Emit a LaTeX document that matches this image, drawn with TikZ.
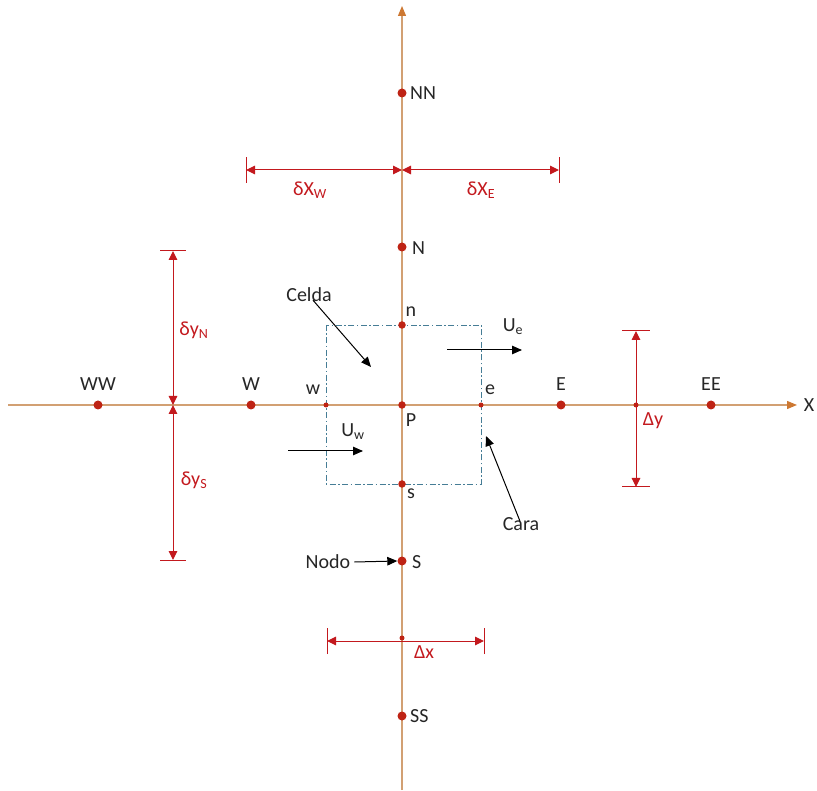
\documentclass[tikz,border=0pt]{standalone}
\usepackage{fontspec}
\setmainfont{Carlito}
\usetikzlibrary{arrows.meta}
\definecolor{axisc}{RGB}{210,160,115}
\definecolor{axtip}{RGB}{205,120,50}
\definecolor{dotc}{RGB}{190,35,20}
\definecolor{dimc}{RGB}{195,25,30}
\definecolor{boxc}{RGB}{70,125,150}
\begin{document}
\begin{tikzpicture}[x=1pt,y=-1pt,
  every node/.style={font=\fontsize{20}{22}\selectfont, inner sep=0pt},
  axis/.style={draw=axisc, line width=1.2pt, -{Triangle[length=10pt,width=8pt,color=axtip]}},
  bigdot/.style={circle, fill=dotc, minimum size=9pt, inner sep=0pt},
  middot/.style={circle, fill=dotc, minimum size=7.5pt, inner sep=0pt},
  smalldot/.style={circle, fill=dotc, minimum size=5pt, inner sep=0pt},
  dim/.style={draw=dimc, line width=1pt, {Triangle[length=9pt,width=8.5pt]}-{Triangle[length=9pt,width=8.5pt]}},
  dimbar/.style={draw=dimc, line width=1pt},
  dimlbl/.style={text=dimc},
  lbl/.style={text=black!85},
  pointer/.style={draw=black, line width=1pt, -{Triangle[length=10pt,width=8.5pt]}},
  cellbox/.style={draw=boxc, line width=0.9pt, dash pattern=on 6pt off 2.5pt on 1.5pt off 2.5pt}
]
\useasboundingbox (0,0) rectangle (817,791);

% axis ends
\coordinate (xa) at (8,405);
\coordinate (xb) at (797,405);
\coordinate (ya) at (402,790);
\coordinate (yb) at (402,6);

% cell box (drawn first)
\coordinate (boxtl) at (326,325);
\coordinate (boxbr) at (481,484);
\draw[cellbox] (boxtl) rectangle (boxbr);

% axes
\draw[axis] (xa) -- (xb);
\draw[axis] (ya) -- (yb);
\node[lbl] (Xl) at (809,405) {X};

% horizontal nodes
\node[bigdot] (WW) at (98,405) {};
\node[bigdot] (W) at (251,405) {};
\node[smalldot] (w) at (326,405) {};
\node[middot] (P) at (402,405) {};
\node[smalldot] (e) at (481,405) {};
\node[bigdot] (E) at (561,405) {};
\node[smalldot] (dyP) at (636,405) {};
\node[bigdot] (EE) at (711,405) {};

% vertical nodes
\node[bigdot] (NN) at (402,93) {};
\node[bigdot] (N) at (402,247) {};
\node[middot] (n) at (402,325) {};
\node[middot] (s) at (402,484) {};
\node[bigdot] (S) at (402,561) {};
\node[smalldot] (dxP) at (402,638) {};
\node[bigdot] (SS) at (402,716) {};

% labels
\node[lbl] (WWl) at (98,384) {WW};
\node[lbl] (Wl) at (251,384) {W};
\node[lbl] (wl) at (313,390) {w};
\node[lbl] (Pl) at (411,420) {P};
\node[lbl] (el) at (490,390) {e};
\node[lbl] (El) at (561,384) {E};
\node[lbl] (EEl) at (711,384) {EE};
\node[lbl, anchor=west] (NNl) at (410,93) {NN};
\node[lbl, anchor=west] (Nl) at (412,248) {N};
\node[lbl] (nl) at (411,312) {n};
\node[lbl] (sl) at (411,494) {s};
\node[lbl, anchor=west] (Sl) at (412,562) {S};
\node[lbl, anchor=west] (SSl) at (410,716) {SS};

% dimension: delta x W / E
\coordinate (dxw) at (246,170);
\coordinate (dxm) at (402,170);
\coordinate (dxe) at (559,170);
\draw[dim] (dxw) -- (dxm);
\draw[dim] (dxe) -- (dxm);
\draw[dimbar] ([yshift=-13pt]dxw) -- ([yshift=13pt]dxw);
\draw[dimbar] ([yshift=-13pt]dxe) -- ([yshift=13pt]dxe);
\node[dimlbl] (dXWl) at (310,190) {δX\textsubscript{W}};
\node[dimlbl] (dXEl) at (481,190) {δX\textsubscript{E}};

% dimension: delta y N / S
\coordinate (dyn) at (173,251);
\coordinate (dym) at (173,405);
\coordinate (dys) at (173,560);
\draw[dim] (dyn) -- (dym);
\draw[dim] (dys) -- (dym);
\draw[dimbar] ([xshift=-13pt]dyn) -- ([xshift=13pt]dyn);
\draw[dimbar] ([xshift=-13pt]dys) -- ([xshift=13pt]dys);
\node[dimlbl] (dyNl) at (194,330) {δy\textsubscript{N}};
\node[dimlbl] (dySl) at (194,480) {δy\textsubscript{S}};

% dimension: Delta y
\coordinate (Dyt) at (636,331);
\coordinate (Dyb) at (636,487);
\draw[dim] (Dyt) -- (Dyb);
\draw[dimbar] ([xshift=-14pt]Dyt) -- ([xshift=14pt]Dyt);
\draw[dimbar] ([xshift=-14pt]Dyb) -- ([xshift=14pt]Dyb);
\node[dimlbl] (Dyl) at (653,421) {Δy};

% dimension: Delta x
\coordinate (Dxl) at (327,641);
\coordinate (Dxr) at (484,641);
\draw[dim] (Dxl) -- (Dxr);
\draw[dimbar] ([yshift=-13pt]Dxl) -- ([yshift=13pt]Dxl);
\draw[dimbar] ([yshift=-13pt]Dxr) -- ([yshift=13pt]Dxr);
\node[dimlbl] (Dxlbl) at (424,652) {Δx};

% velocity arrows
\coordinate (Ue1) at (447,350);
\coordinate (Ue2) at (522,350);
\draw[pointer] (Ue1) -- (Ue2);
\node[lbl] (Uel) at (513,327) {U\textsubscript{e}};
\coordinate (Uw1) at (288,451);
\coordinate (Uw2) at (363,451);
\draw[pointer] (Uw1) -- (Uw2);
\node[lbl] (Uwl) at (353,432) {U\textsubscript{w}};

% annotations
\node[lbl] (celda) at (309,295) {Celda};
\coordinate (celdatip) at (371,367);
\draw[pointer] (celda.south) ++(4pt,2pt) -- (celdatip);
\node[lbl] (cara) at (521,524) {Cara};
\coordinate (caratip) at (486,436);
\draw[pointer] (cara.north) ++(-1pt,-4pt) -- (caratip);
\node[lbl] (nodo) at (328,562) {Nodo};
\draw[pointer] (nodo.east) ++(4pt,0) -- (S.west);
\end{tikzpicture}
\end{document}
